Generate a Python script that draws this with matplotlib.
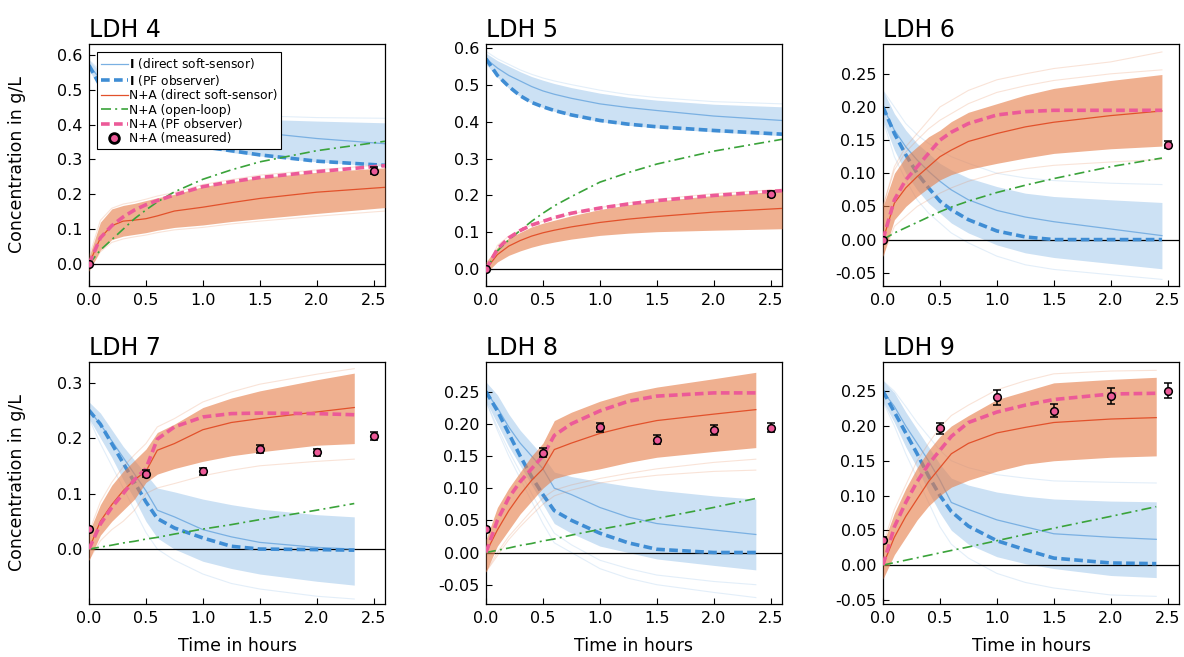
import numpy as np
import matplotlib
matplotlib.use("Agg")
import matplotlib.pyplot as plt
from matplotlib.ticker import FormatStrFormatter

# time grids (hours)
t4 = [0, 0.1, 0.2, 0.3, 0.4, 0.5, 0.6, 0.75, 1.0, 1.25, 1.5, 2.0, 2.6]
t5 = [0, 0.1, 0.2, 0.3, 0.4, 0.5, 0.6, 0.75, 1.0, 1.25, 1.5, 2.0, 2.6]
t6 = [0, 0.1, 0.2, 0.3, 0.4, 0.5, 0.6, 0.75, 1.0, 1.25, 1.5, 2.0, 2.45]
t7 = [0, 0.1, 0.2, 0.3, 0.4, 0.5, 0.6, 0.75, 1.0, 1.25, 1.5, 2.0, 2.33]
t8 = [0, 0.1, 0.2, 0.3, 0.4, 0.5, 0.6, 0.75, 1.0, 1.25, 1.5, 2.0, 2.37]
t9 = [0, 0.1, 0.2, 0.3, 0.4, 0.5, 0.6, 0.75, 1.0, 1.25, 1.5, 2.0, 2.4]

# --- LDH 4 ---
blue_pf4 = [0.57, 0.51, 0.47, 0.44, 0.415, 0.395, 0.38, 0.362, 0.336, 0.325, 0.313, 0.295, 0.283]
blue_mean4 = [0.57, 0.53, 0.50, 0.475, 0.455, 0.44, 0.43, 0.415, 0.40, 0.388, 0.377, 0.36, 0.345]
blue_hi4 = [0.585, 0.55, 0.525, 0.50, 0.48, 0.465, 0.455, 0.44, 0.43, 0.42, 0.415, 0.41, 0.405]
blue_lo4 = [0.555, 0.505, 0.465, 0.435, 0.41, 0.39, 0.375, 0.355, 0.335, 0.32, 0.31, 0.293, 0.28]
or_mean4 = [0, 0.075, 0.11, 0.123, 0.126, 0.13, 0.138, 0.152, 0.163, 0.176, 0.188, 0.206, 0.22]
or_hi4 = [0.02, 0.12, 0.158, 0.168, 0.174, 0.182, 0.19, 0.20, 0.222, 0.236, 0.248, 0.263, 0.276]
or_lo4 = [-0.02, 0.04, 0.07, 0.08, 0.085, 0.09, 0.097, 0.105, 0.112, 0.122, 0.13, 0.145, 0.162]
pink4 = [0, 0.075, 0.11, 0.135, 0.155, 0.17, 0.182, 0.198, 0.222, 0.236, 0.248, 0.265, 0.282]
green4 = [0, 0.04, 0.07, 0.10, 0.13, 0.155, 0.178, 0.207, 0.243, 0.27, 0.293, 0.325, 0.352]
blue_faint4 = [[0.585, 0.555, 0.53, 0.51, 0.49, 0.475, 0.465, 0.452, 0.44, 0.432, 0.425, 0.42, 0.418]]
or_faint4 = [[0.02, 0.125, 0.16, 0.172, 0.178, 0.186, 0.195, 0.205, 0.228, 0.242, 0.255, 0.27, 0.285],
             [-0.02, 0.035, 0.062, 0.072, 0.078, 0.083, 0.09, 0.098, 0.105, 0.115, 0.123, 0.137, 0.152]]
meas_t4 = [0, 2.5]
meas_y4 = [0.0, 0.267]
meas_e4 = [0.002, 0.01]

# --- LDH 5 ---
blue_pf5 = [0.57, 0.525, 0.495, 0.47, 0.452, 0.44, 0.43, 0.418, 0.403, 0.393, 0.386, 0.376, 0.366]
blue_mean5 = [0.57, 0.545, 0.525, 0.51, 0.495, 0.483, 0.474, 0.463, 0.448, 0.438, 0.43, 0.415, 0.403]
blue_hi5 = [0.585, 0.565, 0.55, 0.535, 0.522, 0.512, 0.503, 0.492, 0.477, 0.466, 0.458, 0.447, 0.44]
blue_lo5 = [0.555, 0.52, 0.49, 0.468, 0.45, 0.438, 0.428, 0.415, 0.40, 0.39, 0.383, 0.372, 0.362]
or_mean5 = [0, 0.04, 0.063, 0.078, 0.09, 0.099, 0.106, 0.115, 0.127, 0.136, 0.143, 0.155, 0.165]
or_hi5 = [0.02, 0.06, 0.085, 0.10, 0.115, 0.125, 0.133, 0.145, 0.162, 0.175, 0.185, 0.20, 0.212]
or_lo5 = [-0.01, 0.02, 0.038, 0.05, 0.06, 0.068, 0.074, 0.082, 0.092, 0.098, 0.102, 0.106, 0.11]
pink5 = [0, 0.055, 0.085, 0.105, 0.12, 0.13, 0.14, 0.152, 0.166, 0.177, 0.186, 0.20, 0.213]
green5 = [0, 0.05, 0.08, 0.105, 0.13, 0.152, 0.172, 0.197, 0.236, 0.262, 0.285, 0.32, 0.352]
blue_faint5 = [[0.59, 0.57, 0.555, 0.54, 0.528, 0.518, 0.51, 0.50, 0.485, 0.473, 0.465, 0.454, 0.448]]
or_faint5 = [[-0.01, 0.065, 0.09, 0.106, 0.12, 0.13, 0.138, 0.15, 0.167, 0.18, 0.19, 0.205, 0.217]]
meas_t5 = [0, 2.5]
meas_y5 = [0.0, 0.203]
meas_e5 = [0.002, 0.008]

# --- LDH 6 ---
blue_pf6 = [0.20, 0.16, 0.128, 0.10, 0.078, 0.058, 0.045, 0.03, 0.013, 0.004, 0.0, 0.0, 0.0]
blue_mean6 = [0.20, 0.165, 0.14, 0.12, 0.103, 0.088, 0.075, 0.06, 0.044, 0.034, 0.027, 0.016, 0.006]
blue_hi6 = [0.225, 0.19, 0.165, 0.145, 0.13, 0.115, 0.105, 0.093, 0.08, 0.07, 0.065, 0.06, 0.056]
blue_lo6 = [0.18, 0.135, 0.10, 0.075, 0.055, 0.04, 0.025, 0.01, -0.008, -0.02, -0.027, -0.036, -0.044]
or_mean6 = [0, 0.055, 0.078, 0.095, 0.11, 0.125, 0.135, 0.148, 0.16, 0.17, 0.177, 0.187, 0.194]
or_hi6 = [0.05, 0.10, 0.125, 0.14, 0.155, 0.165, 0.178, 0.192, 0.205, 0.218, 0.228, 0.24, 0.249]
or_lo6 = [-0.025, 0.03, 0.05, 0.065, 0.078, 0.09, 0.098, 0.106, 0.115, 0.123, 0.13, 0.137, 0.141]
pink6 = [0, 0.06, 0.09, 0.11, 0.13, 0.15, 0.162, 0.175, 0.188, 0.193, 0.195, 0.195, 0.195]
green6 = [0, 0.01, 0.018, 0.026, 0.034, 0.042, 0.049, 0.058, 0.071, 0.082, 0.092, 0.11, 0.123]
blue_faint6 = [[0.225, 0.20, 0.175, 0.158, 0.145, 0.135, 0.125, 0.115, 0.10, 0.093, 0.089, 0.085, 0.083],
               [0.18, 0.125, 0.09, 0.06, 0.04, 0.025, 0.01, -0.005, -0.025, -0.038, -0.045, -0.053, -0.06]]
or_faint6 = [[0.05, 0.11, 0.14, 0.16, 0.18, 0.20, 0.21, 0.225, 0.241, 0.25, 0.258, 0.268, 0.283],
             [0.05, 0.105, 0.132, 0.15, 0.167, 0.18, 0.19, 0.205, 0.222, 0.232, 0.24, 0.25, 0.256],
             [-0.025, 0.02, 0.035, 0.05, 0.06, 0.07, 0.078, 0.088, 0.10, 0.107, 0.112, 0.117, 0.121]]
meas_t6 = [0, 2.5]
meas_y6 = [0.0, 0.143]
meas_e6 = [0.002, 0.005]

# --- LDH 7 ---
blue_pf7 = [0.25, 0.225, 0.19, 0.155, 0.12, 0.085, 0.055, 0.038, 0.02, 0.005, 0.0, -0.001, -0.002]
blue_mean7 = [0.25, 0.225, 0.195, 0.165, 0.135, 0.105, 0.07, 0.058, 0.035, 0.022, 0.012, 0.003, 0.0]
blue_hi7 = [0.265, 0.245, 0.215, 0.185, 0.16, 0.135, 0.11, 0.103, 0.09, 0.08, 0.072, 0.062, 0.058]
blue_lo7 = [0.235, 0.20, 0.165, 0.125, 0.09, 0.05, 0.02, 0.0, -0.022, -0.035, -0.045, -0.058, -0.065]
or_mean7 = [0, 0.05, 0.08, 0.105, 0.125, 0.14, 0.178, 0.19, 0.215, 0.228, 0.235, 0.247, 0.255]
or_hi7 = [0.03, 0.08, 0.115, 0.14, 0.16, 0.18, 0.21, 0.225, 0.255, 0.272, 0.285, 0.305, 0.317]
or_lo7 = [-0.02, 0.025, 0.05, 0.07, 0.09, 0.12, 0.135, 0.145, 0.158, 0.168, 0.175, 0.187, 0.19]
pink7 = [0, 0.045, 0.075, 0.10, 0.125, 0.145, 0.198, 0.22, 0.238, 0.244, 0.245, 0.244, 0.242]
green7 = [0, 0.0035, 0.007, 0.011, 0.014, 0.018, 0.021, 0.027, 0.036, 0.044, 0.053, 0.07, 0.082]
blue_faint7 = [[0.235, 0.19, 0.15, 0.11, 0.07, 0.03, 0.0, -0.02, -0.045, -0.062, -0.072, -0.085, -0.09]]
or_faint7 = [[0.03, 0.085, 0.12, 0.148, 0.17, 0.19, 0.22, 0.235, 0.265, 0.283, 0.297, 0.315, 0.325],
             [-0.02, 0.015, 0.035, 0.05, 0.07, 0.10, 0.11, 0.118, 0.132, 0.142, 0.15, 0.158, 0.162]]
meas_t7 = [0, 0.5, 1.0, 1.5, 2.0, 2.5]
meas_y7 = [0.036, 0.136, 0.140, 0.180, 0.174, 0.204]
meas_e7 = [0.004, 0.006, 0.006, 0.007, 0.007, 0.007]

# --- LDH 8 ---
blue_pf8 = [0.25, 0.22, 0.185, 0.15, 0.118, 0.09, 0.065, 0.05, 0.03, 0.015, 0.005, 0.0, 0.0]
blue_mean8 = [0.25, 0.225, 0.195, 0.17, 0.15, 0.13, 0.10, 0.09, 0.07, 0.055, 0.045, 0.035, 0.028]
blue_hi8 = [0.265, 0.245, 0.215, 0.19, 0.17, 0.15, 0.125, 0.118, 0.11, 0.103, 0.097, 0.088, 0.083]
blue_lo8 = [0.235, 0.20, 0.165, 0.135, 0.105, 0.075, 0.045, 0.03, 0.01, 0.0, -0.01, -0.02, -0.027]
or_mean8 = [0, 0.035, 0.065, 0.09, 0.112, 0.13, 0.16, 0.17, 0.185, 0.196, 0.205, 0.215, 0.222]
or_hi8 = [0.02, 0.07, 0.10, 0.125, 0.15, 0.17, 0.205, 0.218, 0.235, 0.248, 0.257, 0.27, 0.28]
or_lo8 = [-0.03, 0.01, 0.035, 0.06, 0.08, 0.10, 0.115, 0.122, 0.13, 0.14, 0.148, 0.157, 0.163]
pink8 = [0, 0.05, 0.085, 0.11, 0.13, 0.15, 0.182, 0.20, 0.22, 0.235, 0.243, 0.248, 0.248]
green8 = [0, 0.0035, 0.007, 0.011, 0.014, 0.018, 0.021, 0.027, 0.036, 0.044, 0.053, 0.07, 0.084]
blue_faint8 = [[0.235, 0.19, 0.15, 0.115, 0.08, 0.045, 0.015, 0.0, -0.025, -0.04, -0.05, -0.062, -0.07],
               [0.235, 0.195, 0.158, 0.125, 0.092, 0.06, 0.03, 0.012, -0.012, -0.025, -0.035, -0.045, -0.05]]
or_faint8 = [[-0.03, 0.0, 0.025, 0.045, 0.065, 0.085, 0.097, 0.105, 0.115, 0.123, 0.13, 0.14, 0.145],
             [-0.03, -0.005, 0.02, 0.04, 0.058, 0.075, 0.088, 0.097, 0.108, 0.115, 0.12, 0.126, 0.128]]
meas_t8 = [0, 0.5, 1.0, 1.5, 2.0, 2.5]
meas_y8 = [0.036, 0.155, 0.195, 0.175, 0.190, 0.194]
meas_e8 = [0.004, 0.007, 0.007, 0.007, 0.008, 0.007]

# --- LDH 9 ---
blue_pf9 = [0.25, 0.22, 0.19, 0.16, 0.128, 0.10, 0.077, 0.056, 0.035, 0.022, 0.01, 0.003, 0.002]
blue_mean9 = [0.25, 0.228, 0.20, 0.175, 0.15, 0.122, 0.09, 0.08, 0.065, 0.055, 0.045, 0.04, 0.037]
blue_hi9 = [0.265, 0.248, 0.22, 0.195, 0.17, 0.145, 0.125, 0.115, 0.105, 0.099, 0.095, 0.092, 0.091]
blue_lo9 = [0.235, 0.205, 0.17, 0.14, 0.105, 0.075, 0.05, 0.03, 0.012, 0.002, -0.005, -0.015, -0.018]
or_mean9 = [0, 0.04, 0.07, 0.095, 0.12, 0.14, 0.16, 0.175, 0.19, 0.198, 0.205, 0.21, 0.212]
or_hi9 = [0.03, 0.075, 0.11, 0.14, 0.165, 0.185, 0.20, 0.215, 0.238, 0.25, 0.262, 0.267, 0.27]
or_lo9 = [-0.02, 0.015, 0.04, 0.065, 0.085, 0.10, 0.112, 0.122, 0.135, 0.145, 0.15, 0.155, 0.157]
pink9 = [0, 0.055, 0.09, 0.12, 0.145, 0.165, 0.185, 0.205, 0.22, 0.23, 0.238, 0.246, 0.247]
green9 = [0, 0.0035, 0.007, 0.0105, 0.014, 0.0175, 0.021, 0.026, 0.035, 0.044, 0.053, 0.07, 0.084]
blue_faint9 = [[0.265, 0.25, 0.228, 0.205, 0.185, 0.165, 0.15, 0.14, 0.13, 0.125, 0.121, 0.119, 0.118],
               [0.235, 0.20, 0.16, 0.125, 0.09, 0.055, 0.03, 0.01, -0.012, -0.025, -0.033, -0.043, -0.045]]
or_faint9 = [[0.03, 0.08, 0.115, 0.15, 0.175, 0.198, 0.215, 0.23, 0.252, 0.265, 0.275, 0.279, 0.28]]
meas_t9 = [0, 0.5, 1.0, 1.5, 2.0, 2.5]
meas_y9 = [0.036, 0.197, 0.241, 0.222, 0.243, 0.251]
meas_e9 = [0.004, 0.008, 0.011, 0.009, 0.011, 0.011]

titles = ["LDH 4", "LDH 5", "LDH 6", "LDH 7", "LDH 8", "LDH 9"]
ylims = [(-0.063, 0.631), (-0.045, 0.61), (-0.070, 0.295),
         (-0.099, 0.337), (-0.080, 0.296), (-0.056, 0.292)]
yticks = [np.arange(0, 0.61, 0.1), np.arange(0, 0.61, 0.1), np.arange(-0.05, 0.26, 0.05),
          np.arange(0, 0.31, 0.1), np.arange(-0.05, 0.26, 0.05), np.arange(-0.05, 0.26, 0.05)]
yfmt = ["%.1f", "%.1f", "%.2f", "%.1f", "%.2f", "%.2f"]

panels = [
    (t4, blue_pf4, blue_mean4, blue_hi4, blue_lo4, or_mean4, or_hi4, or_lo4, pink4, green4, blue_faint4, or_faint4, meas_t4, meas_y4, meas_e4),
    (t5, blue_pf5, blue_mean5, blue_hi5, blue_lo5, or_mean5, or_hi5, or_lo5, pink5, green5, blue_faint5, or_faint5, meas_t5, meas_y5, meas_e5),
    (t6, blue_pf6, blue_mean6, blue_hi6, blue_lo6, or_mean6, or_hi6, or_lo6, pink6, green6, blue_faint6, or_faint6, meas_t6, meas_y6, meas_e6),
    (t7, blue_pf7, blue_mean7, blue_hi7, blue_lo7, or_mean7, or_hi7, or_lo7, pink7, green7, blue_faint7, or_faint7, meas_t7, meas_y7, meas_e7),
    (t8, blue_pf8, blue_mean8, blue_hi8, blue_lo8, or_mean8, or_hi8, or_lo8, pink8, green8, blue_faint8, or_faint8, meas_t8, meas_y8, meas_e8),
    (t9, blue_pf9, blue_mean9, blue_hi9, blue_lo9, or_mean9, or_hi9, or_lo9, pink9, green9, blue_faint9, or_faint9, meas_t9, meas_y9, meas_e9),
]

# colours
c_blue_band = "#8fbde8"
c_blue_mean = "#7ab0e2"
c_blue_pf = "#3f8dd4"
c_or_band = "#e6804d"
c_or_mean = "#e2512b"
c_pink = "#ec5a98"
c_green = "#3aa33a"

W, H = 1184, 657
fig = plt.figure(figsize=(W / 100, H / 100), dpi=100)
lefts = [89, 486, 883]
tops = [44, 362]
aw, ah = 296, 242

for i, p in enumerate(panels):
    (t, bpf, bmean, bhi, blo, omean, ohi, olo, pk, gr, bfaint, ofaint, mt, my, me) = p
    r, c = divmod(i, 3)
    ax = fig.add_axes([lefts[c] / W, 1 - (tops[r] + ah) / H, aw / W, ah / H])

    # I ensemble
    ax.fill_between(t, blo, bhi, color=c_blue_band, alpha=0.45, lw=0, zorder=1)
    for fl in bfaint:
        ax.plot(t, fl, color=c_blue_band, alpha=0.25, lw=0.8, zorder=1)
    ax.axhline(0, color="black", lw=0.9, zorder=1.5)
    ax.plot(t, bmean, color=c_blue_mean, lw=0.9, zorder=2, label=r"$\mathbf{I}$ (direct soft-sensor)")
    ax.plot(t, bpf, color=c_blue_pf, lw=2.6, ls=(0, (2.4, 1.2)), zorder=2.1, label=r"$\mathbf{I}$ (PF observer)")

    # N+A ensemble
    ax.fill_between(t, olo, ohi, color=c_or_band, alpha=0.62, lw=0, zorder=3)
    for fl in ofaint:
        ax.plot(t, fl, color=c_or_band, alpha=0.22, lw=0.8, zorder=3)
    ax.plot(t, omean, color=c_or_mean, lw=0.9, zorder=4, label="N+A (direct soft-sensor)")
    ax.plot(t, gr, color=c_green, lw=1.2, ls=(0, (6, 2.5, 1.2, 2.5)), zorder=4, label="N+A (open-loop)")
    ax.plot(t, pk, color=c_pink, lw=2.6, ls=(0, (2.4, 1.2)), zorder=5, label="N+A (PF observer)")
    ax.errorbar(mt, my, yerr=me, fmt="o", ms=5.5, mfc=c_pink, mec="black", mew=1.1,
                ecolor="black", elinewidth=1.1, capsize=3, capthick=1.1, zorder=6)
    ax.plot([], [], "o", ms=7, mfc=c_pink, mec="black", mew=2, label="N+A (measured)")

    ax.set_xlim(0, 2.6)
    ax.set_ylim(*ylims[i])
    ax.set_xticks([0, 0.5, 1.0, 1.5, 2.0, 2.5])
    ax.xaxis.set_major_formatter(FormatStrFormatter("%.1f"))
    ax.set_yticks(yticks[i])
    ax.yaxis.set_major_formatter(FormatStrFormatter(yfmt[i]))
    ax.tick_params(direction="in", length=4, width=0.8, labelsize=11.5, pad=5)
    for s in ax.spines.values():
        s.set_linewidth(0.9)
    ax.set_title(titles[i], loc="left", fontsize=17, pad=5)
    if c == 0:
        ax.set_ylabel("Concentration in g/L", fontsize=12.5)
        ax.yaxis.set_label_coords(-0.213, 0.5)
    if r == 1:
        ax.set_xlabel("Time in hours", fontsize=12.5)
        ax.xaxis.set_label_coords(0.5, -0.135)
    if i == 0:
        leg = ax.legend(loc="upper left", bbox_to_anchor=(0.028, 0.965), borderaxespad=0,
                        fontsize=8.8, frameon=True, fancybox=False, edgecolor="black",
                        framealpha=1, handlelength=2.2, handletextpad=0.1,
                        labelspacing=0.12, borderpad=0.3)
        leg.get_frame().set_linewidth(0.8)
        leg.set_zorder(10)

fig.savefig("out.png", dpi=100)
